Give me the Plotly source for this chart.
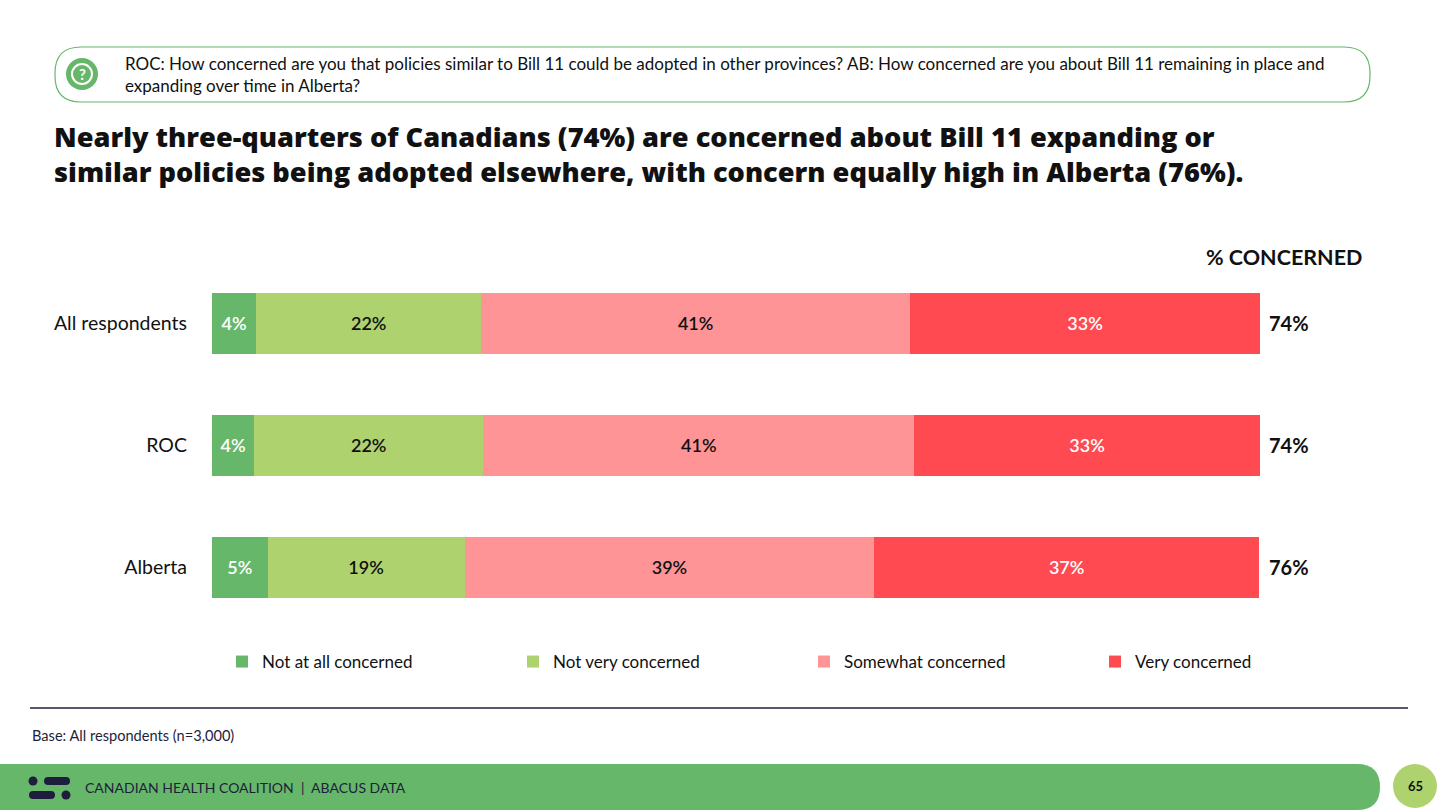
import plotly.graph_objects as go

######### DATA #########

groups = ["All respondents", "ROC", "Alberta"]
not_at_all = [4.2, 4.0, 5.3]
not_very = [21.5, 21.9, 18.8]
somewhat = [40.9, 41.1, 39.1]
very = [33.4, 33.0, 36.7]
pct_concerned = [74, 74, 76]

series_names = ["Not at all concerned", "Not very concerned", "Somewhat concerned", "Very concerned"]
series_values = [not_at_all, not_very, somewhat, very]
series_colors = ["#66B76A", "#AED36E", "#FF9496", "#FF4A51"]
label_colors = ["white", "#111111", "#111111", "white"]

question = ("ROC: How concerned are you that policies similar to Bill 11 could be adopted in other provinces? "
            "AB: How concerned are you about Bill 11 remaining in place and<br>expanding over time in Alberta?")
headline = ("Nearly three-quarters of Canadians (74%) are concerned about Bill 11 expanding or<br>"
            "similar policies being adopted elsewhere, with concern equally high in Alberta (76%).")
base_note = "Base: All respondents (n=3,000)"
footer_text = "CANADIAN HEALTH COALITION  |  ABACUS DATA"
page_no = "65"

FONT = "Lato"
HEAD_FONT = "Open Sans"
NAVY = "#1E1E3C"

# plot area in pixels (figure is 1440 x 810)
L, R, T, B = 212, 1260, 262, 628


def px(x):
    return (x - L) / (R - L)


def py(y):
    return (B - y) / (B - T)


fig = go.Figure()

for name, vals, col, tcol in zip(series_names, series_values, series_colors, label_colors):
    fig.add_trace(go.Bar(
        y=groups, x=vals, name=name, orientation="h",
        marker=dict(color=col, line=dict(width=0)),
        width=0.5,
        texttemplate="%{x:.0f}%", textposition="inside", insidetextanchor="middle",
        textfont=dict(color=tcol, size=18, family=FONT, weight=600),
        hoverinfo="skip",
    ))

annotations = []

# totals on the right
for g, v in zip(groups, pct_concerned):
    annotations.append(dict(x=100, y=g, xref="x", yref="y", text=f"<b>{v}%</b>", showarrow=False,
                            xanchor="left", xshift=7, font=dict(size=20, color="#111111", family=FONT)))

annotations.append(dict(x=px(1364), y=py(257), xref="paper", yref="paper", text="<b>% CONCERNED</b>",
                        showarrow=False, xanchor="right", yanchor="middle",
                        font=dict(size=21.5, color="#111111", family=FONT)))

# question box text
annotations.append(dict(x=px(123), y=py(74), xref="paper", yref="paper", text=question, showarrow=False,
                        xanchor="left", yanchor="middle", align="left",
                        font=dict(size=17, color="#111111", family=FONT)))
annotations.append(dict(x=px(82), y=py(74), xref="paper", yref="paper", text="<b>?</b>", showarrow=False,
                        xanchor="center", yanchor="middle", font=dict(size=15, color="white", family=FONT)))

# headline
annotations.append(dict(x=px(52), y=py(154), xref="paper", yref="paper", text=headline,
                        showarrow=False, xanchor="left", yanchor="middle", align="left",
                        font=dict(size=27.2, color="#111111", family=HEAD_FONT, weight=800)))

# base + footer
annotations.append(dict(x=px(30), y=py(735), xref="paper", yref="paper", text=base_note, showarrow=False,
                        xanchor="left", yanchor="middle", font=dict(size=14.6, color=NAVY, family=FONT)))
annotations.append(dict(x=px(83), y=py(787), xref="paper", yref="paper", text=footer_text, showarrow=False,
                        xanchor="left", yanchor="middle", font=dict(size=14, color=NAVY, family=FONT)))
annotations.append(dict(x=px(1415), y=py(786), xref="paper", yref="paper", text=f"<b>{page_no}</b>",
                        showarrow=False, xanchor="center", yanchor="middle",
                        font=dict(size=13, color="#111111", family=FONT)))


def pill(x0, y0, x1, y1, r):
    # rounded rectangle path in paper coords (pixel input)
    pts = [
        f"M {px(x0 + r)},{py(y0)}",
        f"L {px(x1 - r)},{py(y0)}",
        f"Q {px(x1)},{py(y0)} {px(x1)},{py(y0 + r)}",
        f"L {px(x1)},{py(y1 - r)}",
        f"Q {px(x1)},{py(y1)} {px(x1 - r)},{py(y1)}",
        f"L {px(x0 + r)},{py(y1)}",
        f"Q {px(x0)},{py(y1)} {px(x0)},{py(y1 - r)}",
        f"L {px(x0)},{py(y0 + r)}",
        f"Q {px(x0)},{py(y0)} {px(x0 + r)},{py(y0)}",
        "Z",
    ]
    return " ".join(pts)


def circle(cx, cy, r, **kw):
    return dict(type="circle", xref="paper", yref="paper",
                x0=px(cx - r), x1=px(cx + r), y0=py(cy + r), y1=py(cy - r), **kw)


shapes = [
    # question box
    dict(type="path", xref="paper", yref="paper", path=pill(55, 47, 1370, 102, 26),
         line=dict(color="#66B76A", width=1.2), fillcolor="rgba(0,0,0,0)", layer="below"),
    circle(82, 74, 16, fillcolor="#66B76A", line=dict(width=0)),
    circle(82, 74, 10, fillcolor="rgba(0,0,0,0)", line=dict(color="white", width=2)),
    # separator line
    dict(type="line", xref="paper", yref="paper", x0=px(30), x1=px(1408), y0=py(708), y1=py(708),
         line=dict(color=NAVY, width=1.5)),
    # footer band
    dict(type="path", xref="paper", yref="paper", path=pill(-30, 764, 1380, 810, 23),
         line=dict(width=0), fillcolor="#66B76A", layer="below"),
    circle(1415, 786, 22, fillcolor="#AED36E", line=dict(width=0)),
    # logo
    circle(33, 781, 4.5, fillcolor=NAVY, line=dict(width=0)),
    dict(type="path", xref="paper", yref="paper", path=pill(44, 777, 70, 785, 4),
         fillcolor=NAVY, line=dict(width=0)),
    dict(type="path", xref="paper", yref="paper", path=pill(29, 791, 55, 799, 4),
         fillcolor=NAVY, line=dict(width=0)),
    circle(66, 795, 4.5, fillcolor=NAVY, line=dict(width=0)),
]

fig.update_layout(
    width=1440, height=810,
    barmode="stack",
    paper_bgcolor="white", plot_bgcolor="white",
    margin=dict(l=L, r=1440 - R, t=T, b=810 - B, autoexpand=False),
    font=dict(family=FONT, color="#111111"),
    xaxis=dict(range=[0, 100], visible=False, fixedrange=True),
    yaxis=dict(range=[2.5, -0.5], showgrid=False, zeroline=False, showline=False,
               tickfont=dict(size=19.5, color="#111111", family=FONT), ticklabelstandoff=24),
    showlegend=True,
    legend=dict(orientation="h", x=px(1386), y=py(662), xanchor="right", yanchor="middle",
                entrywidth=246, entrywidthmode="pixels", traceorder="normal",
                font=dict(size=17, color="#111111", family=FONT), itemclick=False),
    annotations=annotations,
    shapes=shapes,
    uniformtext=dict(mode="show", minsize=10),
)

fig.write_html("out.html", config={"displayModeBar": False},
               post_script="document.body.style.margin='0';")
